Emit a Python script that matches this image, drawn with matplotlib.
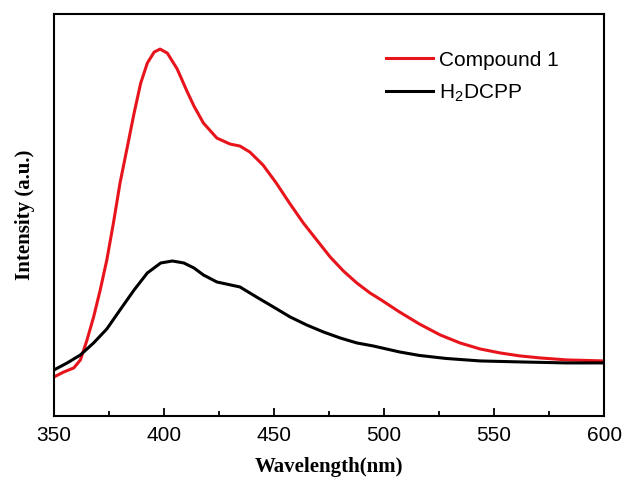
import numpy as np
import matplotlib.pyplot as plt

# emission spectra, values (arbitrary units)
wl_red = [350, 354.5, 359, 362, 365, 368, 371, 374, 377, 380, 383.3, 386.4, 389.4, 392.4, 395.5,
          398.2, 401.5, 406, 410.6, 413.6, 417.9, 424, 430, 434.5, 439, 445, 451, 457, 463.3,
          469.4, 475.5, 481.5, 487.6, 493.6, 498, 507, 516, 525.5, 534.5, 543.6, 552.7, 561.8,
          570.9, 583, 600]
int_red = [39, 44, 48, 56, 76, 99, 126, 156, 193, 233, 269, 303, 333, 353, 364,
           367, 363, 347, 324, 310, 293, 278, 272, 270, 264, 251, 233, 213, 193,
           176, 159, 145, 133, 123, 117, 104, 92, 81, 73, 67, 63, 60,
           58, 56, 55]

wl_blk = [350, 356, 362, 368, 374, 380, 386.4, 392.4, 398.5, 403.8, 409, 413.6, 417.9, 424,
          434.5, 442, 449.7, 457.3, 464.8, 472.4, 480, 487.6, 495, 502, 507, 516, 528, 543.6,
          561.8, 583, 600]
int_blk = [46, 53, 61, 73, 87, 106, 126, 143, 153, 155, 153, 148, 141, 134,
           129, 119, 109, 99, 91, 84, 78, 73, 70, 66.5, 64, 60.5, 57.5, 55,
           54, 53, 53]

fig = plt.figure(figsize=(6.28, 4.87), dpi=100)
ax = fig.add_axes([0.086, 0.146, 0.876, 0.825])

ax.plot(wl_red, int_red, color='#e8141c', lw=2.2, label='Compound 1')
ax.plot(wl_blk, int_blk, color='black', lw=2.2, label='H$_2$DCPP')

ax.set_xlim(350, 600)
ax.set_ylim(0, 402)
ax.set_xticks(np.arange(350, 601, 50))
ax.set_xticks(np.arange(375, 600, 50), minor=True)
ax.set_yticks([])
ax.tick_params(axis='x', which='major', direction='in', length=6, width=1.3, labelsize=15, pad=7)
ax.tick_params(axis='x', which='minor', direction='in', length=3.5, width=1.3)
for lbl in ax.get_xticklabels():
    lbl.set_fontfamily('Liberation Sans')
for s in ax.spines.values():
    s.set_linewidth(1.5)

ax.set_xlabel('Wavelength(nm)', fontfamily='Liberation Serif', fontweight='bold', fontsize=15, labelpad=9)
ax.set_ylabel('Intensity (a.u.)', fontfamily='Liberation Serif', fontweight='bold', fontsize=15, labelpad=14)

plt.rcParams['mathtext.fontset'] = 'custom'
plt.rcParams['mathtext.rm'] = 'Liberation Sans'
leg = ax.legend(loc='upper left', bbox_to_anchor=(0.569, 0.956), frameon=False,
                prop={'family': 'Liberation Sans', 'size': 15}, handlelength=2.25,
                handletextpad=0.3, labelspacing=0.6)

fig.savefig('out.png', dpi=100)
